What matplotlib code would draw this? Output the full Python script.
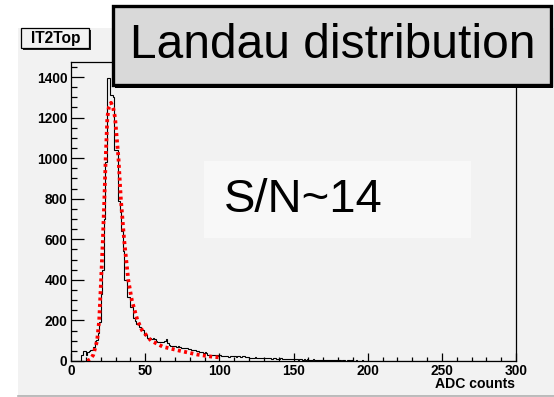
import numpy as np
import matplotlib
matplotlib.use("Agg")
import matplotlib.pyplot as plt
from matplotlib.patches import Rectangle
from matplotlib.ticker import MultipleLocator

plt.rcParams['font.family'] = ['Liberation Sans', 'DejaVu Sans']

# ---------------- data ----------------
bin_edges = list(range(0, 301))
counts = [
    # 0-49
    0, 0, 0, 0, 0, 0, 0, 30, 50, 50, 30, 45, 50, 52, 52, 70, 100, 105, 140, 190,
    330, 450, 700, 982, 1396, 1396, 1311, 1311, 1300, 1040, 1040, 1040, 790, 735, 640, 540, 400, 400, 316, 316,
    266, 266, 211, 195, 180, 180, 170, 153, 153, 128,
    # 50-99
    128, 115, 112, 112, 110, 112, 108, 100, 95, 96, 94, 95, 92, 98, 107, 90, 80, 74, 74, 72,
    74, 70, 72, 68, 66, 64, 66, 62, 66, 60, 58, 55, 52, 55, 50, 48, 45, 46, 42, 40,
    42, 38, 32, 30, 32, 28, 30, 28, 30, 27,
    # 100-149
    30, 25, 24, 26, 23, 25, 22, 24, 27, 25, 23, 22, 25, 24, 21, 23, 26, 22, 20, 18,
    16, 17, 15, 16, 18, 15, 14, 16, 17, 15, 14, 13, 15, 16, 14, 12, 13, 15, 12, 11,
    12, 14, 11, 10, 12, 11, 10, 9, 11, 10,
    # 150-199
    9, 8, 10, 7, 9, 8, 6, 8, 7, 9, 6, 7, 5, 8, 6, 5, 7, 6, 4, 5,
    6, 4, 5, 3, 4, 6, 3, 4, 5, 3, 4, 3, 2, 4, 3, 2, 3, 4, 2, 3,
    2, 1, 3, 2, 1, 2, 3, 1, 2, 1,
    # 200-299
    2, 1, 0, 1, 2, 0, 1, 0, 1, 1, 0, 2, 0, 1, 0, 1, 0, 0, 1, 0,
    1, 0, 0, 1, 0, 1, 0, 0, 0, 1, 0, 0, 1, 0, 0, 0, 1, 0, 0, 0,
    0, 1, 0, 0, 0, 0, 1, 0, 0, 0, 0, 0, 1, 0, 0, 0, 0, 0, 0, 1,
    0, 0, 0, 0, 0, 1, 0, 0, 0, 0, 0, 0, 0, 0, 1, 0, 0, 0, 0, 0,
    0, 0, 0, 0, 0, 0, 0, 0, 0, 0, 0, 0, 0, 0, 0, 0, 0, 0, 0, 0,
]

fit_x = [11, 13, 15, 16.5, 17.6, 19, 20.3, 21.5, 22.5, 23.4, 24.5, 25.5, 27, 28.5, 29.7,
         32, 33.6, 35.8, 38.6, 41, 44.8, 48, 54, 62, 73.6, 85, 96, 100]
fit_y = [0, 8, 30, 70, 100, 200, 400, 600, 800, 1000, 1200, 1250, 1273, 1245, 1200,
         1000, 800, 600, 400, 300, 200, 150, 100, 70, 50, 32, 20, 18]

x_ticks = [0, 50, 100, 150, 200, 250, 300]
y_ticks = [0, 200, 400, 600, 800, 1000, 1200, 1400]

W, H = 554, 397
fig = plt.figure(figsize=(W / 100, H / 100), dpi=100)
fig.patch.set_facecolor('white')

def fx(px):
    return px / W

def fy(py):
    return 1 - py / H

# canvas background
fig.patches.append(Rectangle((fx(18), fy(396)), fx(W - 18), (396 - 28) / H,
                             transform=fig.transFigure, facecolor='#f2f2f2',
                             edgecolor='none', zorder=-2))
fig.lines.append(plt.Line2D([fx(18), 1], [fy(396), fy(396)], transform=fig.transFigure,
                            color='#b0b0b0', lw=1.2, zorder=-1))

ax = fig.add_axes([fx(71), fy(361), (516 - 71) / W, (361 - 62) / H])
ax.set_zorder(1)
ax.set_facecolor('#f2f2f2')

# S/N box inside the axes area
ax.add_patch(Rectangle((fx(204), fy(238)), (471 - 204) / W, (238 - 161) / H,
                       transform=fig.transFigure, facecolor='#f8f8f8',
                       edgecolor='none', zorder=1))
ax.text(fx(224), fy(200), 'S/N~14', ha='left', va='center', fontsize=34,
        transform=fig.transFigure, zorder=2)

ax.stairs(counts, bin_edges, color='black', lw=0.8, zorder=3)
ax.plot(fit_x, fit_y, color='#ff0000', lw=2.7, linestyle=(0, (0.8, 0.9)), zorder=4)

ax.set_xlim(0, 300)
ax.set_ylim(0, 1474)
ax.set_xticks(x_ticks)
ax.set_yticks(y_ticks)
ax.xaxis.set_minor_locator(MultipleLocator(10))
ax.yaxis.set_minor_locator(MultipleLocator(50))
for s in ax.spines.values():
    s.set_linewidth(0.9)
    s.set_color('black')
ax.tick_params(axis='y', which='major', direction='in', length=9.4, width=0.9, pad=2.5,
               labelsize=9.9, right=False)
ax.tick_params(axis='y', which='minor', direction='in', length=4.3, width=0.9, right=False)
ax.tick_params(axis='x', which='major', direction='in', length=5.8, width=0.9, pad=2.5,
               labelsize=9.9, top=False)
ax.tick_params(axis='x', which='minor', direction='in', length=2.9, width=0.9, top=False)
for lab in ax.get_xticklabels() + ax.get_yticklabels():
    lab.set_fontweight('bold')

fig.text(fx(515), fy(384), 'ADC counts', ha='right', va='center', fontsize=10.1,
         fontweight='bold', zorder=5)

# IT2Top box (shadow + box)
fig.patches.append(Rectangle((fx(23), fy(50)), (91 - 23) / W, (50 - 30) / H,
                             transform=fig.transFigure, facecolor='#202020',
                             edgecolor='none', zorder=5))
fig.patches.append(Rectangle((fx(21), fy(48)), (89 - 21) / W, (48 - 28) / H,
                             transform=fig.transFigure, facecolor='#f2f2f2',
                             edgecolor='black', lw=0.9, zorder=6))
fig.text(fx(55.5), fy(38.5), 'IT2Top', ha='center', va='center', fontsize=11.2,
         fontweight='bold', zorder=7)

# Landau title box
fig.patches.append(Rectangle((fx(115), fy(88)), (553 - 115) / W, (88 - 8) / H,
                             transform=fig.transFigure, facecolor='black',
                             edgecolor='none', zorder=8))
fig.patches.append(Rectangle((fx(113), fy(85)), (551 - 113) / W, (85 - 6) / H,
                             transform=fig.transFigure, facecolor='#d9d9d9',
                             edgecolor='black', lw=2.4, zorder=9))
fig.text(fx(333), fy(46), 'Landau distribution', ha='center', va='center',
         fontsize=34.5, zorder=10)

fig.savefig('out.png', dpi=100)
